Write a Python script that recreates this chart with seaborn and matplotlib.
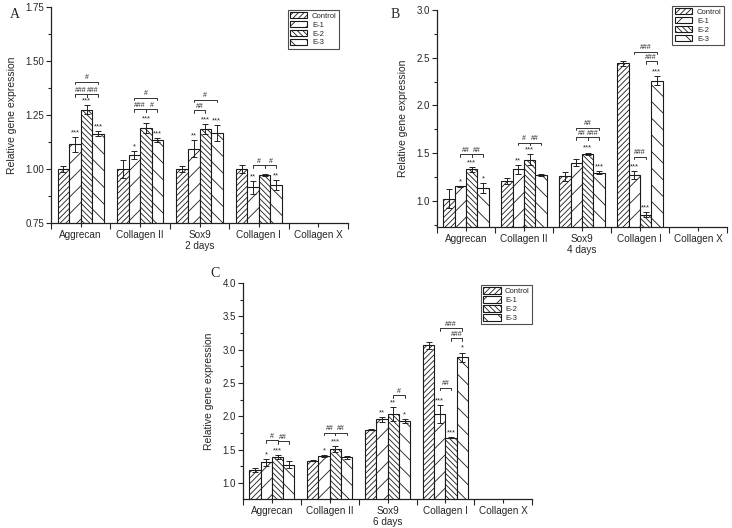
import numpy as np
import pandas as pd
import matplotlib.pyplot as plt
import seaborn as sns

sns.set_style('ticks')
plt.rcParams['font.family'] = ['Liberation Sans', 'DejaVu Sans']
plt.rcParams['hatch.linewidth'] = 0.6

genes = ['Aggrecan', 'Collagen II', 'Sox9', 'Collagen I', 'Collagen X']
groups = ['Control', 'E-1', 'E-2', 'E-3']
hatches = ['//////', '//', '\\\\\\\\\\\\', '\\\\']

# rows = groups (Control, E-1, E-2, E-3), columns = Aggrecan, Collagen II, Sox9, Collagen I
# panel A, 2 days
a_means = [[1.00, 1.00, 1.00, 1.00],
           [1.115, 1.066, 1.094, 0.915],
           [1.276, 1.191, 1.186, 0.971],
           [1.164, 1.136, 1.166, 0.926]]
a_errs = [[0.015, 0.042, 0.015, 0.019],
          [0.034, 0.019, 0.040, 0.030],
          [0.019, 0.024, 0.022, 0.004],
          [0.011, 0.009, 0.036, 0.022]]
a_stars = [['', '', '', ''],
           ['***', '*', '**', '**'],
           ['***', '***', '***', ''],
           ['***', '***', '***', '**']]
# (gene, bar from, bar to, height, label)
a_brackets = [(0, 1, 3, 1.405, '#'), (0, 1, 2, 1.348, '###'), (0, 2, 3, 1.348, '###'),
              (1, 1, 3, 1.330, '#'), (1, 1, 2, 1.278, '###'), (1, 2, 3, 1.278, '#'),
              (2, 1, 3, 1.322, '#'), (2, 1, 2, 1.273, '##'),
              (3, 1, 2, 1.017, '#'), (3, 2, 3, 1.017, '#')]

# panel B, 4 days
b_means = [[1.02, 1.205, 1.255, 2.44],
           [1.15, 1.33, 1.40, 1.27],
           [1.33, 1.43, 1.49, 0.855],
           [1.135, 1.27, 1.295, 2.26]]
b_errs = [[0.10, 0.03, 0.045, 0.03],
          [0.006, 0.045, 0.04, 0.045],
          [0.025, 0.06, 0.015, 0.03],
          [0.055, 0.015, 0.015, 0.05]]
b_stars = [['', '', '', ''],
           ['*', '**', '', '***'],
           ['***', '***', '***', '***'],
           ['*', '', '***', '***']]
b_brackets = [(0, 1, 2, 1.49, '##'), (0, 2, 3, 1.49, '##'),
              (1, 1, 2, 1.61, '#'), (1, 2, 3, 1.61, '##'),
              (2, 1, 3, 1.766, '##'), (2, 1, 2, 1.665, '##'), (2, 2, 3, 1.665, '###'),
              (3, 1, 3, 2.563, '###'), (3, 2, 3, 2.465, '###'), (3, 1, 2, 1.46, '###')]

# panel C, 6 days
c_means = [[1.195, 1.336, 1.80, 3.065],
           [1.31, 1.40, 1.955, 2.035],
           [1.395, 1.51, 2.035, 1.68],
           [1.275, 1.386, 1.93, 2.887]]
c_errs = [[0.025, 0.01, 0.01, 0.05],
          [0.055, 0.015, 0.035, 0.135],
          [0.03, 0.05, 0.11, 0.005],
          [0.05, 0.025, 0.035, 0.07]]
c_stars = [['', '', '', ''],
           ['*', '*', '**', '***'],
           ['***', '***', '**', '***'],
           ['', '', '*', '*']]
c_brackets = [(0, 1, 2, 1.64, '#'), (0, 2, 3, 1.63, '##'),
              (1, 1, 2, 1.755, '##'), (1, 2, 3, 1.755, '##'),
              (2, 2, 3, 2.315, '#'),
              (3, 1, 3, 3.32, '###'), (3, 2, 3, 3.17, '###'), (3, 1, 2, 2.43, '##')]


def draw_panel(ax, means, errs, stars, brackets, ylim, major, xlabel, leg_anchor):
    rows = []
    for g, vals in zip(groups, means):
        for gene, v in zip(genes, vals):
            rows.append({'gene': gene, 'group': g, 'value': v})
    df = pd.DataFrame(rows)

    sns.barplot(data=df, x='gene', y='value', hue='group', order=genes, hue_order=groups,
                palette=['white'] * 4, errorbar=None, width=0.78, edgecolor='#1a1a1a',
                linewidth=0.8, saturation=1, legend=False, ax=ax)
    bars = list(ax.containers)

    centers = []
    for i, cont in enumerate(bars):
        xs = []
        for p in cont.patches:
            p.set_hatch(hatches[i])
            xs.append(p.get_x() + p.get_width() / 2)
        centers.append(xs)
        ax.errorbar(xs, means[i], yerr=errs[i], fmt='none', ecolor='#222222',
                    elinewidth=0.7, capsize=2.2, capthick=0.7)
        for x, m, e, s in zip(xs, means[i], errs[i], stars[i]):
            if s:
                ax.annotate(s, (x, m + e), xytext=(0, 0.5), textcoords='offset points',
                            ha='center', va='bottom', fontsize=5.5)

    tick = 0.012 * (ylim[1] - ylim[0])
    for gi, b0, b1, y, lab in brackets:
        x0 = centers[b0][gi]
        x1 = centers[b1][gi]
        ax.plot([x0, x0, x1, x1], [y - tick, y, y, y - tick], color='#333333', lw=0.7)
        ax.annotate(lab, ((x0 + x1) / 2, y), xytext=(0, 0.3), textcoords='offset points',
                    ha='center', va='bottom', fontsize=5)

    ax.set_ylim(*ylim)
    ax.set_xlim(-0.5, 4.5)
    ax.set_yticks(np.arange(major[0], ylim[1] + 0.001, major[1]))
    ax.set_yticks(np.arange(major[0] - major[1] / 2, ylim[1] + 0.001, major[1] / 2), minor=True)
    ax.set_ylim(*ylim)
    ax.set_xticks(np.arange(-0.5, 5, 1), minor=True)
    ax.tick_params(axis='x', which='major', length=3, width=0.8, labelsize=7.2, pad=2)
    ax.tick_params(axis='x', which='minor', length=4, width=0.8)
    ax.tick_params(axis='y', which='major', length=3.5, width=0.8, labelsize=7, pad=1.5)
    ax.tick_params(axis='y', which='minor', length=2, width=0.8)
    ax.set_xlabel(xlabel, fontsize=7.2, labelpad=1)
    ax.set_ylabel('Relative gene expression', fontsize=7.5, labelpad=6)
    sns.despine(ax=ax)
    for sp in ['left', 'bottom']:
        ax.spines[sp].set_linewidth(0.9)
        ax.spines[sp].set_color('#222222')

    leg = ax.legend([c.patches[0] for c in bars], groups, loc='upper right',
                    bbox_to_anchor=leg_anchor, fontsize=5.5, frameon=True, fancybox=False,
                    edgecolor='#222222', handlelength=2.3, handleheight=0.9,
                    borderpad=0.3, labelspacing=0.15, handletextpad=0.6, borderaxespad=0)
    leg.get_frame().set_linewidth(0.8)


fig = plt.figure(figsize=(7.32, 5.28), dpi=100)
ax_a = fig.add_axes([0.0697, 0.578, 0.4057, 0.408])
ax_b = fig.add_axes([0.597, 0.570, 0.396, 0.411])
ax_c = fig.add_axes([0.332, 0.055, 0.395, 0.409])

draw_panel(ax_a, a_means, a_errs, a_stars, a_brackets, (0.75, 1.75), (0.75, 0.25),
           '2 days', (0.97, 0.99))
draw_panel(ax_b, b_means, b_errs, b_stars, b_brackets, (0.724, 3.0), (1.0, 0.5),
           '4 days', (0.99, 1.02))
draw_panel(ax_c, c_means, c_errs, c_stars, c_brackets, (0.76, 4.0), (1.0, 0.5),
           '6 days', (1.0, 0.99))

fig.text(0.014, 0.985, 'A', fontsize=10, family='Liberation Serif', va='top')
fig.text(0.534, 0.985, 'B', fontsize=10, family='Liberation Serif', va='top')
fig.text(0.288, 0.495, 'C', fontsize=10, family='Liberation Serif', va='top')

fig.savefig('out.png', dpi=100)
